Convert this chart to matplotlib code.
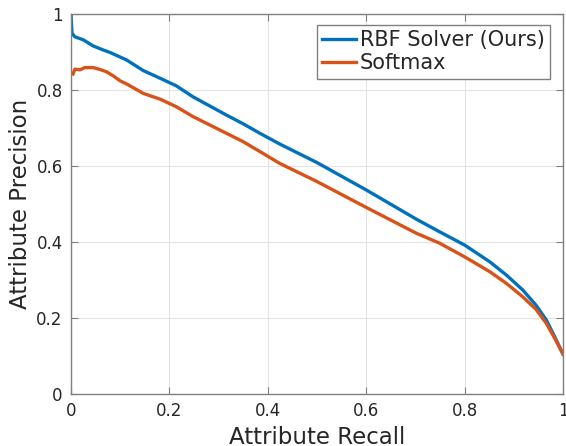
import matplotlib
matplotlib.use("Agg")
import matplotlib.pyplot as plt

# Data
rbf_recall = [0.0, 0.002, 0.008, 0.025, 0.045, 0.066, 0.079, 0.113, 0.147, 0.181, 0.214,
              0.248, 0.282, 0.316, 0.35, 0.384, 0.424, 0.5, 0.6, 0.702, 0.749, 0.8,
              0.851, 0.885, 0.918, 0.945, 0.966, 0.983, 1.0]
rbf_precision = [1.0, 0.949, 0.94, 0.932, 0.916, 0.905, 0.899, 0.879, 0.851, 0.831, 0.811,
                 0.782, 0.758, 0.734, 0.711, 0.686, 0.658, 0.609, 0.537, 0.460, 0.427, 0.392,
                 0.348, 0.313, 0.274, 0.234, 0.195, 0.151, 0.105]

soft_recall = [0.004, 0.008, 0.018, 0.028, 0.045, 0.059, 0.072, 0.086, 0.1, 0.113, 0.147,
               0.181, 0.214, 0.248, 0.282, 0.316, 0.35, 0.384, 0.424, 0.5, 0.6, 0.702,
               0.749, 0.8, 0.851, 0.885, 0.918, 0.945, 0.966, 0.983, 1.0]
soft_precision = [0.842, 0.855, 0.853, 0.859, 0.859, 0.854, 0.848, 0.837, 0.824, 0.816, 0.791,
                  0.776, 0.756, 0.730, 0.708, 0.686, 0.664, 0.638, 0.607, 0.559, 0.491, 0.423,
                  0.397, 0.361, 0.322, 0.291, 0.256, 0.223, 0.186, 0.147, 0.105]

labels = ["RBF Solver (Ours)", "Softmax"]
colors = ["#0072BD", "#D95319"]
ticks = [0, 0.2, 0.4, 0.6, 0.8, 1]
tick_labels = ["0", "0.2", "0.4", "0.6", "0.8", "1"]

W, H = 566, 446
fig = plt.figure(figsize=(W / 100, H / 100), dpi=100)
ax = fig.add_axes([71 / W, (H - 394) / H, 492 / W, 380 / H])

ax.plot(rbf_recall, rbf_precision, color=colors[0], lw=2.4, label=labels[0], solid_joinstyle="round")
ax.plot(soft_recall, soft_precision, color=colors[1], lw=2.4, label=labels[1], solid_joinstyle="round")

ax.set_xlim(0, 1)
ax.set_ylim(0, 1)
ax.set_xticks(ticks)
ax.set_xticklabels(tick_labels)
ax.set_yticks(ticks)
ax.set_yticklabels(tick_labels)

ax.grid(True, color="#e3e3e3", lw=0.8)
ax.set_axisbelow(True)
for s in ax.spines.values():
    s.set_color("#808080")
    s.set_linewidth(1.0)
ax.tick_params(direction="in", length=5, width=0.8, color="#808080",
               top=True, right=True, labelsize=12, labelcolor="#262626", pad=6)

ax.set_xlabel("Attribute Recall", fontsize=16.5, color="#262626", labelpad=4)
ax.set_ylabel("Attribute Precision", fontsize=16.5, color="#262626", labelpad=3)

leg = ax.legend(loc="upper right", bbox_to_anchor=(550 / W, (H - 25) / H),
                bbox_transform=fig.transFigure, fontsize=15, frameon=True,
                fancybox=False, edgecolor="#808080", framealpha=1,
                handlelength=1.6, handletextpad=0.2, labelspacing=0.15,
                borderpad=0.25, borderaxespad=0)
leg.get_frame().set_linewidth(1.0)
for t in leg.get_texts():
    t.set_color("#262626")

fig.savefig("out.png", dpi=100)
